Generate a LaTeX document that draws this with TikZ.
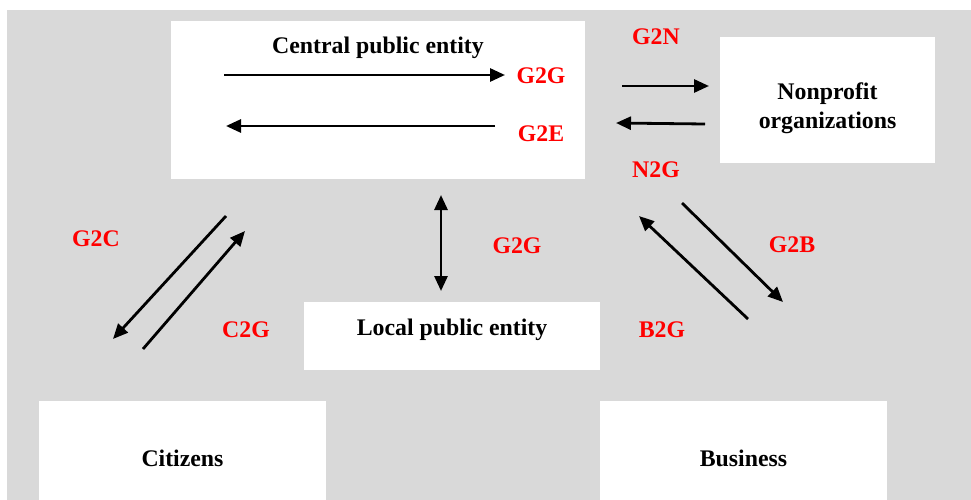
\documentclass[tikz,border=0pt]{standalone}
\usepackage{fontspec}
\setmainfont{Liberation Serif}
\usepackage{xcolor}
\usetikzlibrary{positioning,calc,arrows.meta}

\definecolor{bggray}{RGB}{217,217,217}
\newcommand{\diagfont}{\fontsize{23.8}{29}\selectfont\bfseries}
\tikzset{
    entity/.style={fill=white, inner sep=0pt, font=\diagfont, align=center},
    flow/.style={line width=2.8pt, -{Triangle[length=15pt,width=13pt]}},
    flowlbl/.style={text=red, font=\diagfont, inner sep=0pt}
}

\begin{document}
\begin{tikzpicture}[x=1pt, y=-1pt, font=\diagfont]
    \useasboundingbox (0,0) rectangle (971,500);
    % Background
    \fill [bggray] (7,10) rectangle (971,500);
    % Entities
    \node [entity, minimum width=414pt, minimum height=158pt] (central) at (378,100) {};
    \node at (378,48) {Central public entity};
    \node [entity, minimum width=215pt, minimum height=126pt] (npo) at (827.5,100) {};
    \node [align=center] at (827.5,108) {Nonprofit\\organizations};
    \node [entity, minimum width=296pt, minimum height=68pt] (local) at (452,336) {};
    \node at (452,330) {Local public entity};
    \node [entity, minimum width=287pt, minimum height=99pt] (citizens) at (182.5,450.5) {};
    \node at (182.5,458) {Citizens};
    \node [entity, minimum width=287pt, minimum height=99pt] (business) at (743.5,450.5) {};
    \node at (743.5,458) {Business};
    % Arrow ends
    \coordinate (g2g-a) at (224,75);   \coordinate (g2g-b) at (505,75);
    \coordinate (g2e-a) at (495,126);  \coordinate (g2e-b) at (226,126);
    \coordinate (g2n-a) at (622,86);   \coordinate (g2n-b) at (709,86);
    \coordinate (n2g-a) at (705,124);  \coordinate (n2g-b) at (616,123);
    \coordinate (loc-a) at (441,195);  \coordinate (loc-b) at (441,291);
    \coordinate (g2c-a) at (226,216);  \coordinate (g2c-b) at (113,339);
    \coordinate (c2g-a) at (143,349);  \coordinate (c2g-b) at (245,231);
    \coordinate (g2b-a) at (682,203);  \coordinate (g2b-b) at (783,302);
    \coordinate (b2g-a) at (748,319);  \coordinate (b2g-b) at (639,216);
    % Flows
    \draw [flow] (g2g-a) -- (g2g-b);
    \draw [flow] (g2e-a) -- (g2e-b);
    \draw [flow] (g2n-a) -- (g2n-b);
    \draw [flow] (n2g-a) -- (n2g-b);
    \draw [flow, {Triangle[length=15pt,width=13pt]}-{Triangle[length=15pt,width=13pt]}] (loc-a) -- (loc-b);
    \draw [flow] (g2c-a) -- (g2c-b);
    \draw [flow] (c2g-a) -- (c2g-b);
    \draw [flow] (g2b-a) -- (g2b-b);
    \draw [flow] (b2g-a) -- (b2g-b);
    % Labels
    \node [flowlbl] (l-g2g) at (541,76) {G2G};
    \node [flowlbl] (l-g2e) at (541,134) {G2E};
    \node [flowlbl] (l-g2n) at (656,37) {G2N};
    \node [flowlbl] (l-n2g) at (656,170) {N2G};
    \node [flowlbl] (l-loc) at (517,246) {G2G};
    \node [flowlbl] (l-g2c) at (96,239) {G2C};
    \node [flowlbl] (l-c2g) at (246,330) {C2G};
    \node [flowlbl] (l-g2b) at (792,245) {G2B};
    \node [flowlbl] (l-b2g) at (662,330) {B2G};
\end{tikzpicture}
\end{document}
